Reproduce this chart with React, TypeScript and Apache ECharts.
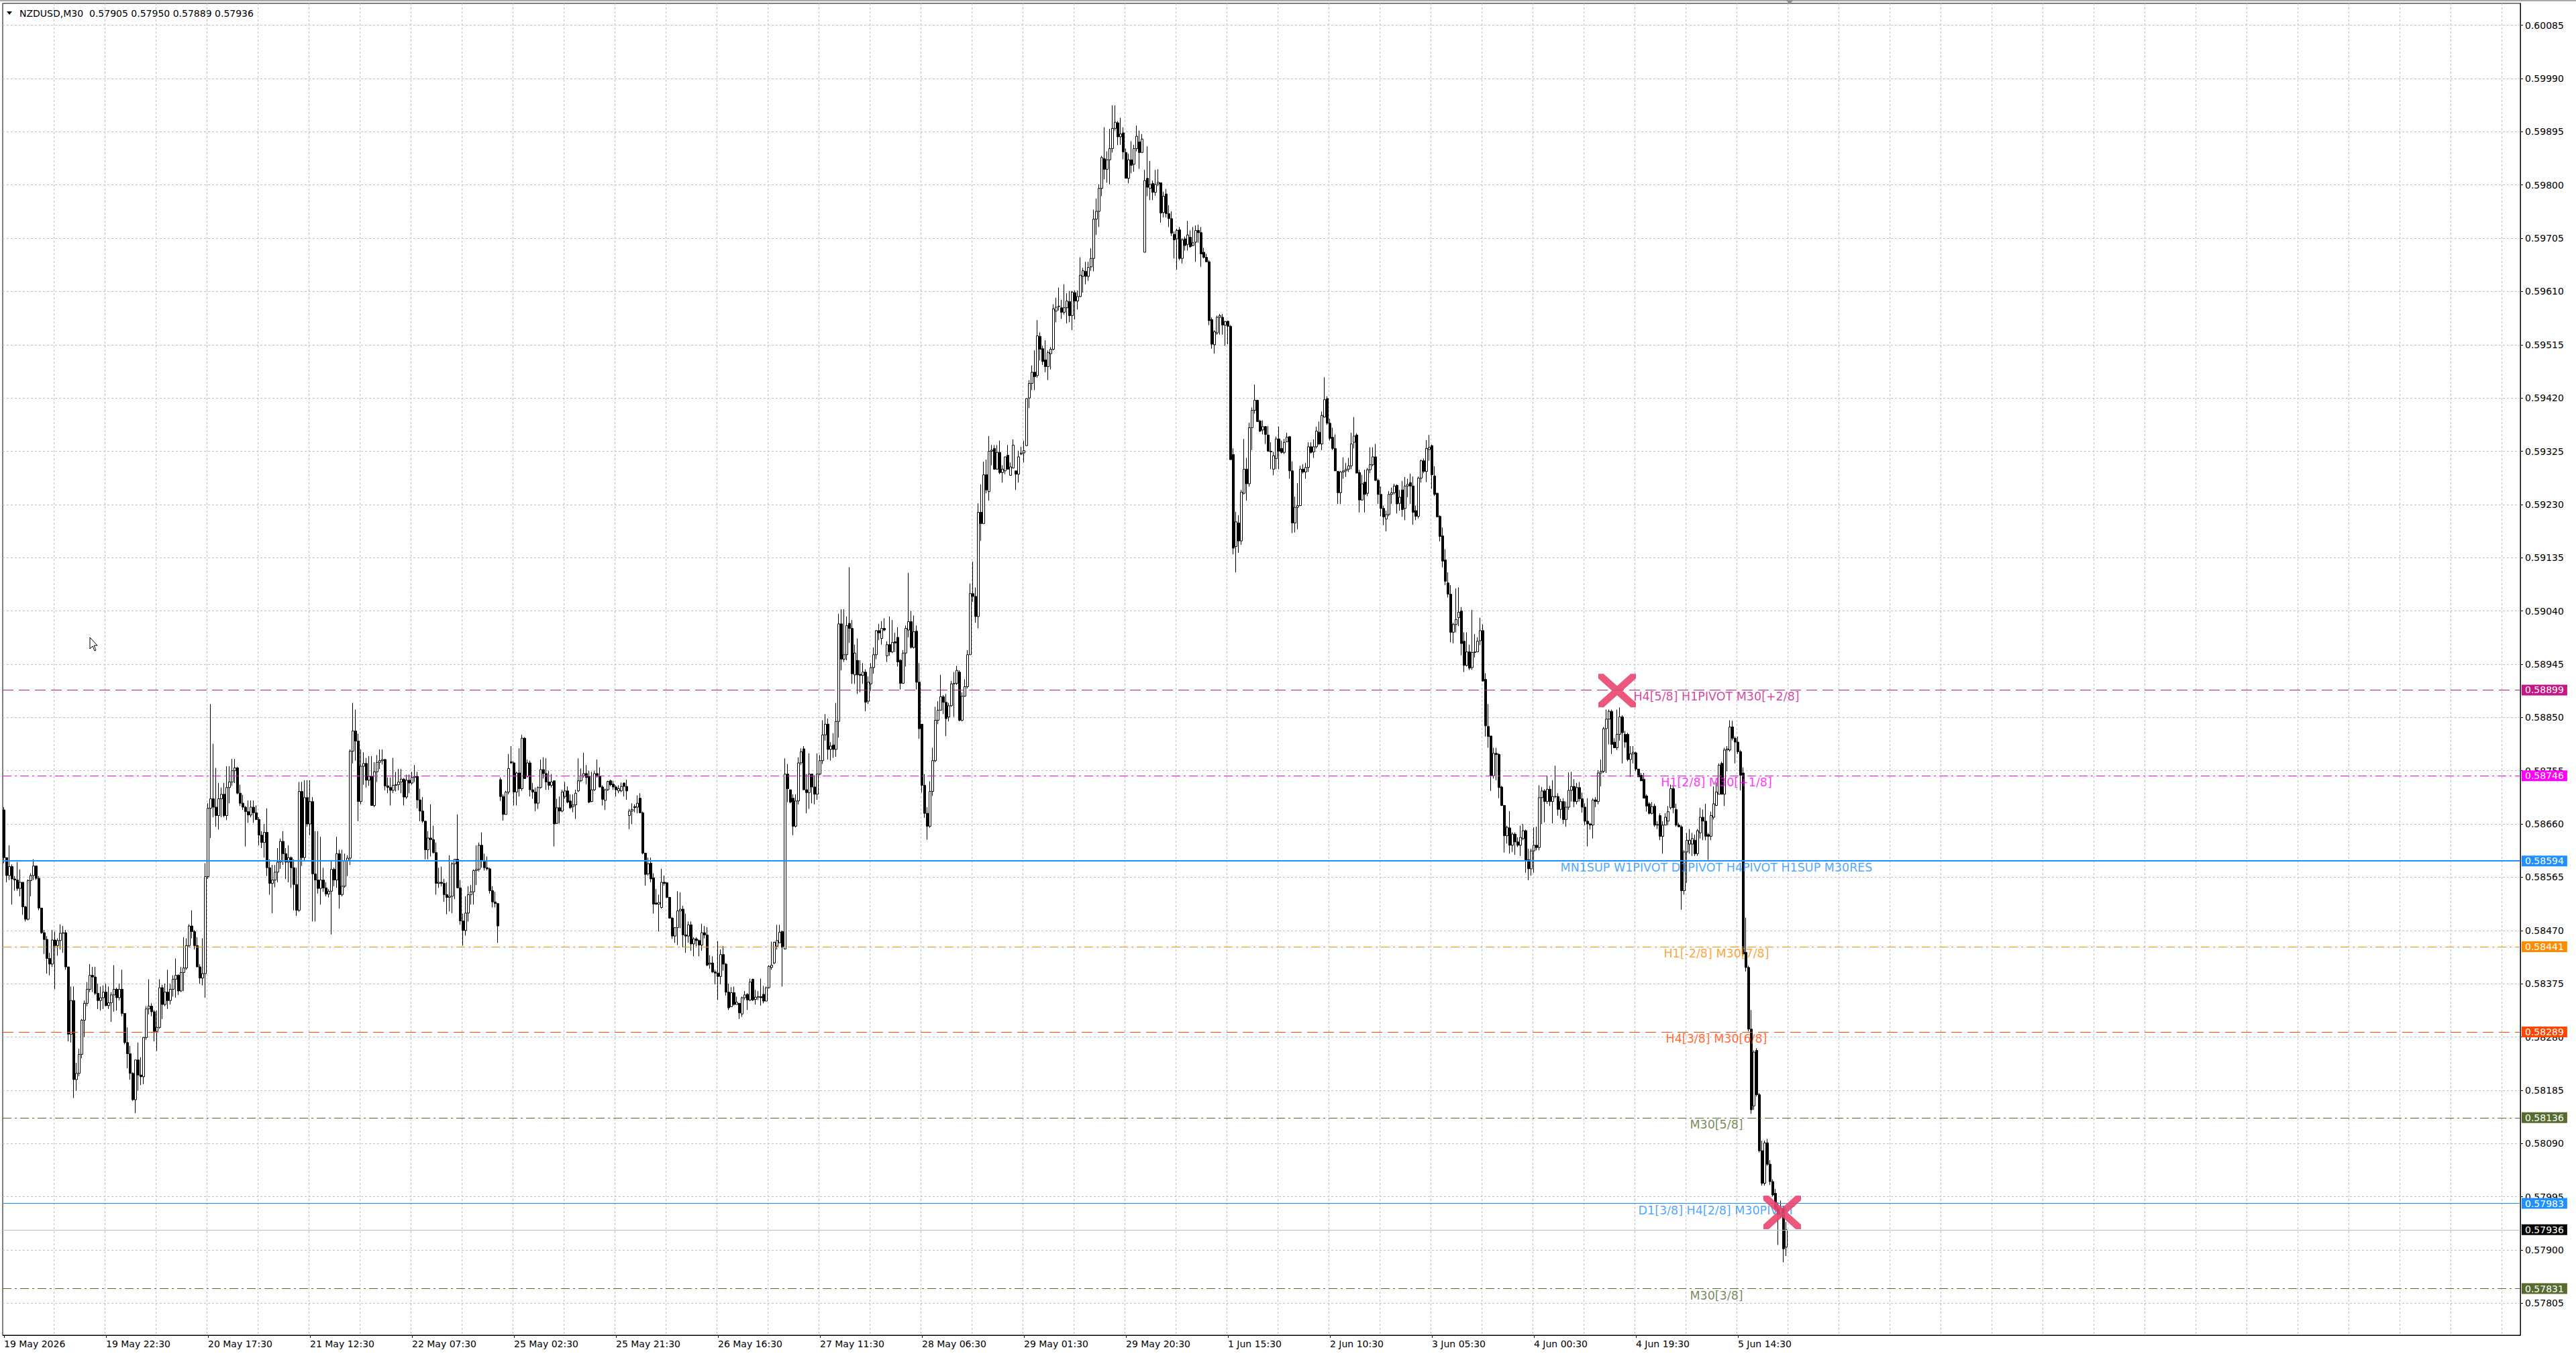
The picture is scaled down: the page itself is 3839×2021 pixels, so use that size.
import React, { useEffect, useRef } from "react";
import * as echarts from "echarts";

// NZDUSD M30 bars, [open, high, low, close] in points above 0.58000 (1 point = 0.00001)
const may19 = [
  [685,690,590,600],[600,600,556,568],[568,622,560,584],[584,588,516,562],[562,567,541,560],[560,592,541,545],[545,579,531,556],[556,556,498,512],[512,514,486,490],[490,561,488,559],
  [559,572,531,568],[568,597,560,585],[585,586,560,563],[563,567,506,510],[510,510,464,466],[466,471,428,454],[454,460,393,420],[420,430,390,410],[410,471,405,453],[453,468,365,443],
  [443,456,425,452],[452,481,436,465],[465,478,430,466],[466,471,400,405],[405,405,272,285],[285,370,270,345],[345,370,171,204],[204,234,184,215],[215,259,210,249],[249,312,242,310],
  [310,345,280,340],[340,378,335,365],[365,410,360,390],[390,405,360,387],[387,405,355,358],[358,375,330,345],[345,370,327,350],[350,372,330,360],[360,375,335,336],[336,370,330,341],
  [341,360,307,355],
];
const may20 = [
  [355,408,325,365],[365,368,327,350],[350,375,345,365],[365,400,317,322],[322,322,267,270],[270,297,224,250],[250,264,204,215],[215,217,166,168],[168,239,144,239],[239,270,184,212],
  [212,244,194,209],[209,280,196,279],[279,335,275,330],[330,383,320,335],[335,340,317,325],[325,328,272,290],[290,327,255,297],[297,383,295,368],[368,373,312,338],[338,375,335,360],
  [360,400,330,345],[345,375,338,365],[365,390,352,383],[383,420,350,390],[390,392,355,362],[362,405,360,395],[395,458,362,403],[403,456,400,443],[443,481,440,478],[478,506,456,468],
  [468,471,436,443],[443,458,405,405],[405,410,375,385],[385,456,372,393],[393,590,350,566],[566,697,562,688],[688,874,635,705],[705,803,672,690],[690,760,655,675],[675,733,650,705],
  [705,725,672,713],[713,733,672,675],[675,763,667,725],[725,763,697,735],[735,776,728,755],[755,776,733,760],[760,762,713,715],[715,730,692,697],
];
const may21 = [
  [697,712,685,690],[690,692,620,682],[682,702,662,676],[676,702,672,690],[690,702,662,680],[680,693,667,668],[668,672,622,640],[640,647,617,627],[627,660,600,645],[645,688,567,582],
  [582,597,534,554],[554,587,501,560],[560,587,547,574],[574,617,556,592],[592,634,580,629],[629,647,587,607],[607,617,562,592],[592,622,556,600],[600,602,546,582],[582,597,506,552],
  [552,582,496,506],[506,735,503,718],[718,735,585,600],[600,738,595,707],[707,738,655,660],[660,738,640,700],[700,708,486,571],[571,647,486,560],[560,647,536,545],[545,637,516,560],
  [560,582,539,546],[546,556,531,535],[535,544,529,540],[540,594,463,579],[579,582,549,560],[560,637,546,607],[607,614,509,534],[534,614,531,549],[549,607,546,594],[594,604,567,599],
  [599,793,587,790],[790,876,768,826],[826,864,773,808],[808,821,665,700],[700,793,695,763],[763,788,730,768],[768,778,725,738],[738,781,728,745],
];
const may22 = [
  [745,781,693,693],[693,770,690,753],[753,783,735,770],[770,793,758,773],[773,793,766,775],[775,776,720,728],[728,743,715,725],[725,743,693,720],[720,778,715,729],[729,753,718,730],
  [730,758,720,735],[735,758,715,740],[740,742,693,708],[708,748,705,738],[738,748,715,733],[733,753,730,743],[743,765,735,745],[745,753,688,703],[703,723,665,683],[683,708,662,665],
  [665,665,597,614],[614,647,597,635],[635,695,602,632],[632,657,607,609],[609,627,534,554],[554,582,546,556],[556,584,549,554],[554,562,521,534],[534,556,499,529],[529,604,504,531],
  [531,592,501,589],[589,597,526,597],[597,677,546,546],[546,560,480,487],[487,500,443,470],[470,531,461,501],[501,549,486,534],[534,551,516,539],[539,579,516,577],[577,622,551,579],
  [579,627,575,622],[622,645,582,594],[594,607,577,582],[582,602,577,580],[580,582,536,541],[541,549,511,521],[521,539,511,518],[518,519,448,478],
];
const may25 = [
  [739,743,701,709],[709,713,666,677],[677,719,677,717],[717,785,713,759],[771,799,767,769],[769,771,693,717],[717,753,693,751],[751,795,709,723],[723,819,719,813],[813,815,741,741],
  [745,775,743,769],[769,773,709,721],[721,733,705,717],[717,725,683,697],[697,727,687,725],[725,775,723,757],[757,779,741,750],[750,777,721,735],[735,755,721,729],[729,749,725,735],
  [737,738,620,660],[661,705,660,689],[689,709,661,683],[683,721,681,717],[709,735,705,719],[719,727,697,699],[701,713,687,689],[691,713,681,694],[694,721,669,715],[719,777,717,737],
  [737,759,735,746],[746,787,743,750],[750,765,731,743],[745,755,697,699],[700,753,699,721],[721,755,719,750],[750,775,743,745],[745,761,725,726],[726,729,693,704],[702,723,685,721],
  [721,737,719,736],[737,739,727,730],[731,737,721,726],[726,729,709,721],[719,729,715,723],[719,734,717,727],[733,734,709,727],[727,739,703,719],
];
const may26 = [
  [675,687,651,683],[683,697,660,686],[691,695,681,689],[690,711,679,697],[706,715,679,680],[680,682,606,608],[608,608,550,570],[571,600,568,589],[590,600,556,562],[564,572,500,517],
  [519,544,516,517],[517,534,468,520],[511,580,509,556],[556,568,550,554],[555,556,528,529],[529,530,492,492],[492,494,455,460],[460,476,448,475],[475,540,444,505],[505,538,474,508],
  [508,514,440,462],[462,500,430,460],[460,486,448,480],[480,486,434,446],[446,458,424,455],[455,458,442,452],[452,454,424,444],[444,482,434,466],[466,478,456,462],[462,476,406,408],
  [410,426,402,412],[412,424,394,396],[396,400,374,394],[394,451,346,388],[388,436,374,427],[427,442,398,410],[410,412,354,360],[360,375,328,332],[334,369,334,359],[359,370,336,338],
  [338,352,338,342],[340,340,312,323],[321,352,316,350],[350,362,346,355],[356,358,328,346],[346,384,344,378],[383,384,344,346],[347,364,338,351],
];
const may27 = [
  [351,362,346,352],[352,384,336,350],[356,371,340,344],[344,370,344,368],[368,408,366,406],[404,450,400,408],[412,450,410,449],[442,480,436,452],[448,480,448,467],[468,470,370,440],
  [437,777,436,749],[749,767,699,723],[721,721,697,699],[706,713,640,656],[656,713,654,701],[701,779,695,769],[769,795,765,789],[794,799,721,721],[721,749,679,716],[716,786,687,749],
  [749,749,697,726],[726,747,695,713],[713,786,703,749],[749,783,747,773],[773,845,767,819],[819,856,809,838],[838,848,775,793],[793,806,773,799],[801,822,778,793],[793,876,780,843],
  [843,1035,814,1017],[1017,1043,934,954],[954,1043,949,962],[962,1030,952,1014],[1018,1118,983,1009],[1009,1024,910,928],[926,980,910,965],[952,991,892,926],[927,952,895,925],[925,947,910,931],
  [931,936,861,877],[879,923,874,913],[910,947,897,939],[939,975,928,962],[962,1006,954,1005],[1005,1017,988,1001],[991,1022,980,1009],[1009,1027,1004,1006],
];
const may28 = [
  [960,986,949,980],[980,1030,960,967],[967,1024,965,984],[985,1001,967,983],[993,1011,941,949],[952,954,900,911],[911,970,910,965],[965,1014,941,1009],[1006,1108,993,1021],[1021,1040,973,975],
  [975,1032,973,1003],[1004,1014,900,913],[913,947,812,830],[838,838,716,729],[729,749,671,679],[679,690,632,656],[656,736,653,718],[718,796,710,773],[773,869,770,845],[845,879,838,863],
  [863,926,863,887],[887,890,856,877],[877,892,817,848],[851,876,843,871],[871,915,869,910],[910,931,851,911],[911,942,908,934],[931,934,843,845],[845,895,843,888],[888,918,887,905],
  [905,970,902,962],[962,1089,962,1071],[1071,1128,1056,1066],[1066,1082,1019,1030],[1030,1232,1009,1216],[1216,1266,1165,1196],[1196,1306,1196,1283],[1283,1310,1250,1256],[1253,1352,1237,1325],[1325,1336,1300,1327],
  [1330,1336,1292,1293],[1293,1336,1292,1323],[1323,1344,1284,1287],[1287,1300,1269,1293],[1290,1315,1284,1315],[1318,1336,1292,1293],[1282,1305,1282,1297],[1295,1346,1295,1336],
];
const may29 = [
  [1290,1290,1256,1284],[1284,1326,1269,1315],[1320,1333,1318,1322],[1322,1344,1305,1326],[1335,1419,1334,1419],[1420,1452,1402,1446],[1446,1478,1434,1466],[1466,1505,1434,1458],[1460,1559,1456,1531],[1530,1537,1487,1507],
  [1508,1513,1479,1485],[1488,1523,1466,1476],[1476,1505,1452,1501],[1499,1511,1471,1507],[1507,1587,1505,1579],[1575,1599,1555,1582],[1583,1617,1576,1584],[1581,1595,1561,1573],[1573,1623,1569,1581],[1581,1607,1553,1593],
  [1592,1611,1555,1567],[1567,1611,1541,1609],[1608,1612,1560,1593],[1593,1612,1578,1601],[1601,1671,1600,1639],[1637,1652,1608,1647],[1646,1663,1623,1637],[1637,1663,1629,1653],[1654,1687,1647,1669],[1669,1756,1646,1739],
  [1739,1776,1711,1753],[1753,1801,1725,1794],[1794,1852,1780,1849],[1847,1903,1810,1828],[1828,1860,1804,1845],[1845,1900,1801,1865],[1865,1942,1858,1901],[1901,1942,1897,1912],[1911,1914,1871,1886],[1886,1920,1872,1891],
  [1893,1903,1846,1859],[1858,1865,1812,1812],[1812,1856,1803,1845],[1845,1878,1821,1835],[1837,1872,1824,1865],[1865,1906,1860,1887],[1877,1897,1829,1858],[1858,1891,1858,1882],
];
const jun01 = [
  [1680,1827,1680,1808],[1812,1869,1780,1796],[1794,1843,1773,1801],[1803,1808,1773,1787],[1787,1827,1781,1801],[1802,1828,1798,1805],[1804,1804,1733,1750],[1751,1788,1742,1780],[1784,1793,1742,1749],[1749,1764,1725,1740],
  [1740,1753,1709,1714],[1712,1717,1669,1702],[1704,1722,1649,1719],[1720,1725,1666,1669],[1669,1705,1660,1702],[1704,1708,1683,1692],[1694,1736,1683,1711],[1707,1719,1688,1690],[1692,1725,1691,1697],[1698,1728,1663,1719],
  [1719,1729,1697,1715],[1715,1725,1654,1677],[1680,1688,1669,1671],[1671,1677,1663,1663],[1663,1666,1550,1558],[1560,1564,1508,1516],[1515,1541,1499,1538],[1536,1567,1533,1564],[1564,1570,1533,1567],[1564,1570,1533,1550],
  [1550,1558,1513,1556],[1557,1558,1516,1548],[1548,1550,1310,1310],[1319,1330,1141,1152],[1155,1217,1109,1199],[1197,1211,1144,1165],[1165,1256,1158,1252],[1250,1347,1248,1293],[1293,1313,1237,1267],[1267,1376,1262,1367],
  [1367,1403,1327,1398],[1398,1444,1392,1416],[1416,1417,1378,1378],[1379,1381,1359,1361],[1363,1380,1355,1369],[1369,1370,1338,1355],[1354,1370,1324,1325],[1325,1341,1293,1324],
];
const jun02 = [
  [1293,1324,1282,1317],[1312,1351,1293,1347],[1347,1369,1293,1325],[1330,1344,1321,1323],[1323,1347,1320,1341],[1342,1358,1341,1350],[1351,1352,1276,1290],[1290,1307,1179,1197],[1197,1244,1180,1225],[1225,1268,1186,1228],
  [1228,1299,1228,1293],[1293,1302,1285,1288],[1288,1304,1276,1296],[1296,1341,1288,1333],[1333,1341,1321,1323],[1324,1346,1313,1333],[1333,1369,1330,1361],[1359,1378,1336,1338],[1338,1396,1327,1389],[1386,1457,1385,1417],
  [1419,1423,1372,1375],[1375,1383,1344,1348],[1350,1367,1327,1330],[1330,1355,1290,1290],[1289,1290,1231,1251],[1251,1290,1231,1288],[1288,1314,1276,1290],[1290,1304,1279,1293],[1293,1313,1288,1299],[1299,1358,1293,1338],
  [1341,1386,1330,1352],[1354,1357,1286,1286],[1287,1292,1216,1238],[1238,1283,1237,1267],[1270,1292,1216,1248],[1250,1295,1245,1292],[1292,1332,1286,1301],[1301,1332,1298,1315],[1315,1338,1272,1273],[1273,1276,1231,1248],
  [1248,1262,1209,1223],[1223,1228,1193,1208],[1204,1219,1182,1212],[1212,1254,1209,1248],[1248,1260,1231,1251],[1251,1267,1248,1263],[1264,1266,1214,1231],[1232,1256,1219,1243],
];
const jun03 = [
  [1256,1272,1208,1221],[1223,1279,1202,1263],[1263,1276,1243,1266],[1269,1285,1231,1263],[1263,1280,1194,1216],[1219,1228,1202,1209],[1209,1280,1205,1277],[1277,1310,1269,1308],[1308,1312,1286,1289],[1289,1345,1270,1330],
  [1328,1354,1308,1332],[1335,1337,1258,1283],[1281,1298,1245,1248],[1250,1251,1207,1208],[1209,1211,1164,1173],[1174,1189,1118,1129],[1131,1150,1086,1093],[1090,1109,1064,1070],[1070,1086,984,1002],[1002,1019,982,1016],
  [1016,1080,1002,1025],[1028,1082,1013,1038],[1040,1047,961,982],[986,1002,931,943],[943,1002,941,967],[967,980,935,938],[939,1042,935,966],[966,999,957,967],[967,993,967,986],[987,1028,979,1005],
  [1005,1016,914,915],[918,929,816,835],[834,874,796,816],[817,817,719,746],[746,796,741,786],[786,796,738,784],[784,786,706,725],[726,728,692,693],[693,694,609,639],[639,657,625,654],
  [653,683,607,622],[622,645,610,642],[642,645,605,628],[628,636,619,622],[622,657,603,636],[634,660,631,648],[648,650,573,596],[596,616,560,580],
];
const jun04 = [
  [580,616,568,612],[612,654,573,622],[622,655,613,618],[618,729,613,707],[707,726,660,719],[719,722,663,700],[700,746,696,722],[722,728,692,700],[700,738,661,709],[709,764,706,709],
  [709,715,675,686],[686,705,670,700],[700,706,660,668],[668,700,655,690],[690,752,685,720],[720,753,700,727],[727,740,690,700],[700,733,695,725],[725,735,700,705],[705,716,680,690],
  [690,697,658,665],[665,706,620,660],[660,662,650,658],[658,706,634,703],[703,708,690,700],[700,756,695,751],[751,775,727,754],[754,833,751,830],[830,864,751,847],[847,864,802,861],
  [861,864,785,802],[806,813,796,796],[796,864,792,820],[820,868,809,851],[851,854,768,823],[820,826,796,806],[820,823,772,775],[775,799,744,785],[785,799,768,788],[787,789,754,758],
  [758,758,744,744],[747,751,737,737],[740,751,706,706],[710,713,682,692],[696,699,677,679],[679,699,677,691],[692,696,655,658],[658,665,651,659],
];
const jun05 = [
  [675,679,631,638],[638,665,607,658],[658,679,658,672],[665,692,658,682],[689,730,686,723],[723,727,679,689],[686,696,655,658],[658,662,655,655],[655,658,507,541],[541,613,534,610],
  [610,644,555,631],[624,651,607,631],[624,644,603,634],[631,641,603,607],[607,651,603,648],[644,689,634,672],[672,686,631,665],[665,696,631,638],[641,644,596,638],[638,682,631,675],
  [672,727,668,696],[693,734,692,717],[713,768,713,765],[768,771,713,713],[713,796,692,792],[792,799,754,794],[792,845,789,833],[833,844,809,813],[813,816,768,806],[806,816,785,789],
  [789,792,720,747],[751,761,424,428],[431,493,397,404],[404,407,290,294],[294,328,143,150],[157,256,150,253],[256,260,174,177],[177,180,74,77],[77,95,15,19],[19,95,15,91],
  [91,98,50,53],[53,60,16,22],[22,26,-5,-2],[1,9,-29,-26],[-26,-15,-91,-36],[-39,-12,-43,-26],[-26,-22,-122,-98],[-95,-50,-111,-64],
];

const timeLabels = [
  "19 May 2026", "19 May 22:30", "20 May 17:30", "21 May 12:30", "22 May 07:30", "25 May 02:30",
  "25 May 21:30", "26 May 16:30", "27 May 11:30", "28 May 06:30", "29 May 01:30", "29 May 20:30",
  "1 Jun 15:30", "2 Jun 10:30", "3 Jun 05:30", "4 Jun 00:30", "4 Jun 19:30", "5 Jun 14:30",
];
const priceTicks = [
  0.57805, 0.579, 0.57995, 0.5809, 0.58185, 0.5828, 0.58375, 0.5847, 0.58565, 0.5866, 0.58755, 0.5885, 0.58945,
  0.5904, 0.59135, 0.5923, 0.59325, 0.5942, 0.59515, 0.5961, 0.59705, 0.598, 0.59895, 0.5999, 0.60085,
];
const levelPrices = [0.58899, 0.58746, 0.58594, 0.58441, 0.58289, 0.58136, 0.57983, 0.57831];
const levelNames = [
  "H4[5/8] H1PIVOT M30[+2/8]",
  "H1[2/8] M30[+1/8]",
  "MN1SUP W1PIVOT D1PIVOT H4PIVOT H1SUP M30RES",
  "H1[-2/8] M30[7/8]",
  "H4[3/8] M30[6/8]",
  "M30[5/8]",
  "D1[3/8] H4[2/8] M30PIVOT",
  "M30[3/8]",
];
const crossMarks = [[601, 0.58898], [662, 0.57967]];
const SYMBOL_NAME = "NZDUSD,M30";

// layout / style constants
const SLOTS = 938;
const LABEL_STEP = 38;
const GRID_STEP = 19;
const LEVEL_TEXT_BAR = 638;
const Y_MIN = 0.577479;
const Y_MAX = 0.601241;
const FONT = "DejaVu Sans";
const DASH = [16, 8];
const DASHDOT = [13, 5, 3, 5];
const levelColors = ["#C71585", "#FF00FF", "#1E90FF", "#FF8C00", "#FF4500", "#556B2F", "#1E90FF", "#556B2F"];
const levelTypes: any[] = [DASH, DASHDOT, "solid", DASHDOT, DASH, DASHDOT, "solid", DASHDOT];
const levelWidths = [1, 1, 2, 1, 1, 1, 1, 1];
const CROSS_PATH = "path://M0,0L7,0L50,43L50,50L43,50L0,7Z M50,0L50,7L7,50L0,50L0,43L43,0Z";

const toPrice = (p: number) => (58000 + p) / 100000;

function buildOption() {
  const bars = [may19, may20, may21, may22, may25, may26, may27, may28, may29, jun01, jun02, jun03, jun04, jun05].flat();
  const candleData = bars.map(([o, h, l, c]) => [
    toPrice(o), toPrice(c), toPrice(Math.min(l, o, c)), toPrice(Math.max(h, o, c)),
  ]);
  const last = bars[bars.length - 1];
  const header = `${SYMBOL_NAME}  ${last.map((v) => toPrice(v).toFixed(5)).join(" ")}`;
  const bid = toPrice(last[3]);
  const categories = Array.from({ length: SLOTS }, (_, i) => String(i));
  const lastLabelIdx = (timeLabels.length - 1) * LABEL_STEP;
  const labelInterval = (idx: number) => idx % LABEL_STEP === 0 && idx <= lastLabelIdx;

  const axisValueLabel = (bg: string) => ({
    show: true, position: "end", distance: 2, backgroundColor: bg, color: "#fff",
    padding: [1, 5, 1, 5], fontFamily: FONT, fontSize: 14,
  });
  const levelLines: any[] = levelPrices.map((p, i) => ({
    yAxis: p,
    lineStyle: { color: levelColors[i], type: levelTypes[i], width: levelWidths[i] },
    label: { ...axisValueLabel(levelColors[i]), formatter: p.toFixed(5) },
  }));
  levelLines.unshift({
    yAxis: bid,
    lineStyle: { color: "#C0C0C0", type: "solid", width: 1 },
    label: { ...axisValueLabel("#000"), formatter: bid.toFixed(5) },
  });

  return {
    animation: false,
    backgroundColor: "#fff",
    grid: { left: 4, right: 83, top: 5, bottom: 31, show: true, borderColor: "#000", borderWidth: 1, backgroundColor: "transparent" },
    xAxis: {
      type: "category",
      data: categories,
      boundaryGap: true,
      axisLine: { show: true, lineStyle: { color: "#000", width: 1 } },
      axisTick: { show: true, alignWithLabel: true, interval: labelInterval, length: 4, lineStyle: { color: "#000" } },
      axisLabel: {
        interval: labelInterval,
        formatter: (_v: string, idx: number) => timeLabels[Math.round(idx / LABEL_STEP)] || "",
        align: "left", margin: 6, color: "#000", fontSize: 14, fontFamily: FONT,
      },
      splitLine: { show: true, interval: (idx: number) => idx > 0 && idx % GRID_STEP === 0, lineStyle: { color: "#C0C0C0", type: [3, 3], width: 1 } },
    },
    yAxis: {
      type: "value",
      position: "right",
      min: Y_MIN,
      max: Y_MAX,
      axisLine: { show: true, lineStyle: { color: "#000", width: 1 } },
      axisTick: { show: true, customValues: priceTicks, length: 4, lineStyle: { color: "#000" } },
      axisLabel: { customValues: priceTicks, formatter: (v: number) => v.toFixed(5), margin: 7, color: "#000", fontSize: 14, fontFamily: FONT },
      splitLine: { show: true, lineStyle: { color: "#C0C0C0", type: [3, 3], width: 1 } },
    },
    series: [
      {
        type: "candlestick",
        data: candleData,
        large: false,
        barWidth: 3,
        silent: true,
        z: 3,
        itemStyle: { color: "#fff", color0: "#000", borderColor: "#000", borderColor0: "#000", borderWidth: 1 },
      },
      {
        type: "line",
        data: [],
        silent: true,
        z: 5,
        markLine: { silent: true, symbol: ["none", "none"], animation: false, precision: 5, data: levelLines },
      },
      {
        type: "scatter",
        silent: true,
        z: 6,
        symbolSize: 0,
        itemStyle: { color: "rgba(0,0,0,0)" },
        label: { show: true, position: "inside", offset: [0, 10], fontFamily: FONT, fontSize: 17.5 },
        data: levelPrices.map((p, i) => ({
          value: [LEVEL_TEXT_BAR, p],
          label: { color: levelColors[i], formatter: levelNames[i] },
        })),
      },
      {
        type: "scatter",
        silent: true,
        z: 7,
        symbol: CROSS_PATH,
        symbolSize: [56, 50],
        symbolKeepAspect: false,
        itemStyle: { color: "#E8476E", opacity: 0.9 },
        data: [{ value: crossMarks[0] }, { value: crossMarks[1], symbolOffset: [2, 0] }],
      },
    ],
    graphic: [
      { type: "rect", silent: true, shape: { x: 0, y: 0, width: 3839, height: 2 }, style: { fill: "#A8A8A8" } },
      { type: "polygon", silent: true, shape: { points: [[10, 17], [18, 17], [14, 22]] }, style: { fill: "#000" } },
      {
        type: "text", silent: true, x: 29, y: 20,
        style: { text: header, fill: "#000", fontSize: 14, fontFamily: FONT, verticalAlign: "middle" },
      },
      { type: "polygon", silent: true, shape: { points: [[2661, 0], [2673, 0], [2667, 6]] }, style: { fill: "#909090" } },
      {
        type: "polygon", silent: true, x: 134, y: 950,
        shape: { points: [[0, 0], [0, 17], [4, 13], [7, 20], [9, 19], [6, 12], [11, 12]] },
        style: { fill: "#fff", stroke: "#000", lineWidth: 1 },
      },
    ],
  };
}

export default function App() {
  const ref = useRef<HTMLDivElement>(null);
  useEffect(() => {
    document.body.style.margin = "0";
    document.body.style.overflow = "hidden";
    if (!ref.current) return;
    const chart = echarts.init(ref.current, null, { renderer: "svg" });
    chart.setOption(buildOption() as any);
    return () => chart.dispose();
  }, []);
  return <div ref={ref} style={{ width: 3839, height: 2021 }} />;
}
